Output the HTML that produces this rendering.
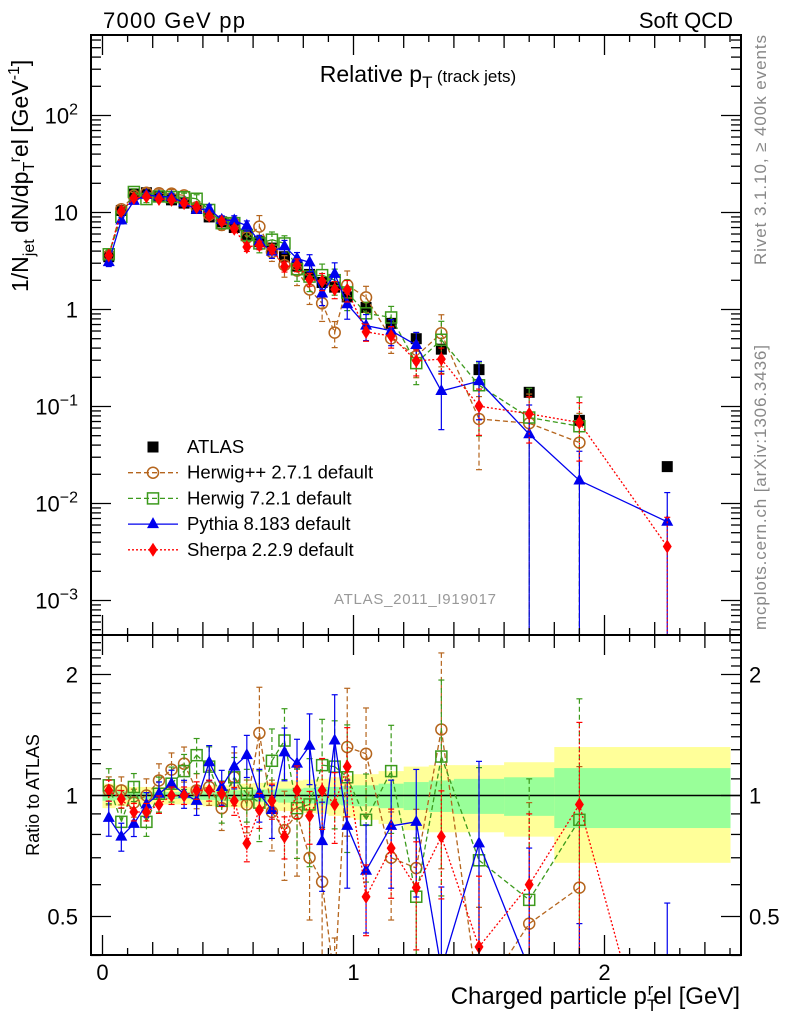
<!DOCTYPE html>
<html><head><meta charset="utf-8"><style>
html,body{margin:0;padding:0;background:#fff;width:786px;height:1024px;overflow:hidden}
svg{display:block;font-family:"Liberation Sans",Arial,sans-serif}
</style></head><body>
<svg id="chart" width="786" height="1024" viewBox="0 0 786 1024" xmlns="http://www.w3.org/2000/svg">
<defs>
<clipPath id="clipMain"><rect x="91" y="35" width="650" height="600"/></clipPath>
<clipPath id="clipRatio"><rect x="91" y="635" width="650" height="320"/></clipPath>
</defs>
<g id="bands" clip-path="url(#clipRatio)"></g>
<g id="ratioMarks" clip-path="url(#clipRatio)"></g>
<g id="mainMarks" clip-path="url(#clipMain)"></g>
<g id="axes"></g>
<text x="103" y="28" font-size="22" textLength="142">7000 GeV pp</text>
<text x="733" y="28" font-size="22" text-anchor="end">Soft QCD</text>
<text x="418" y="82" font-size="23" text-anchor="middle">Relative p<tspan font-size="17" dy="6">T</tspan><tspan font-size="17" dy="-6"> (track jets)</tspan></text>
<text x="415" y="604" font-size="15" fill="#999" text-anchor="middle" textLength="162">ATLAS_2011_I919017</text>
<text transform="translate(766,265) rotate(-90)" font-size="17" fill="#888" textLength="230">Rivet 3.1.10, ≥ 400k events</text>
<text transform="translate(766,630) rotate(-90)" font-size="17" fill="#888" textLength="285">mcplots.cern.ch [arXiv:1306.3436]</text>
<text transform="translate(28,292) rotate(-90)" font-size="23">1/N<tspan font-size="16" dy="6">jet</tspan><tspan dy="-6"> dN/dp</tspan><tspan font-size="16" dy="6">T</tspan><tspan font-size="16" dy="-14">r</tspan><tspan dy="8">el [GeV</tspan><tspan font-size="16" dy="-9">-1</tspan><tspan dy="9">]</tspan></text>
<text transform="translate(39,795) rotate(-90)" font-size="18" text-anchor="middle">Ratio to ATLAS</text>
<text x="740" y="1004" font-size="24" text-anchor="end">Charged particle p<tspan font-size="17" dy="7">T</tspan><tspan font-size="17" dy="-16" dx="-9">r</tspan><tspan dy="9">el [GeV]</tspan></text>
<g id="legend"></g>
</svg>
<script>
const xBins = [0.025,0.075,0.125,0.175,0.225,0.275,0.325,0.375,0.425,0.475,0.525,0.575,0.625,0.675,0.725,0.775,0.825,0.875,0.925,0.975,1.05,1.15,1.25,1.35,1.5,1.7,1.9,2.25];
const atlasValues = [3.5,10.5,15.5,16,14.5,13.5,12.5,11,9,8,7,5.8,5,4.3,3.5,2.8,2.3,1.9,1.7,1.35,1.05,0.72,0.5,0.39,0.24,0.14,0.072,0.024];
const bandEdges = [0,0.05,0.1,0.15,0.2,0.25,0.3,0.35,0.4,0.45,0.5,0.55,0.6,0.65,0.7,0.75,0.8,0.85,0.9,0.95,1.0,1.1,1.2,1.3,1.4,1.6,1.8,2.0,2.5];
const statErr = [0.03,0.025,0.02,0.02,0.02,0.02,0.02,0.025,0.025,0.03,0.03,0.03,0.035,0.035,0.04,0.04,0.045,0.05,0.05,0.055,0.06,0.07,0.08,0.09,0.1,0.11,0.17,0.17];
const totErr = [0.07,0.06,0.05,0.05,0.05,0.05,0.05,0.055,0.06,0.06,0.065,0.07,0.075,0.08,0.085,0.09,0.095,0.1,0.11,0.12,0.13,0.15,0.18,0.19,0.19,0.21,0.32,0.32];
const herwigppRatio = [1.03,1.03,0.96,1.0,1.09,1.16,1.2,1.03,1.05,0.93,1.11,0.95,1.43,0.91,0.82,0.9,0.70,0.61,0.34,1.32,1.27,0.70,0.66,1.46,0.31,0.48,0.59,null];
const herwigppErr = [0.08,0.08,0.08,0.1,0.1,0.1,0.1,0.1,0.1,0.12,0.15,0.15,0.3,0.2,0.25,0.3,0.3,0.35,0.3,0.4,0.3,0.3,0.4,0.55,0.7,1.0,1.0,0];
const herwig7Ratio = [1.06,0.86,1.05,0.86,1.01,1.07,1.15,1.26,1.18,0.97,1.11,1.01,0.96,1.22,1.37,0.93,0.95,1.19,1.18,1.11,0.87,1.15,0.56,1.25,0.69,0.55,0.87,null];
const herwig7Err = [0.1,0.08,0.08,0.08,0.1,0.1,0.1,0.1,0.12,0.12,0.12,0.15,0.2,0.2,0.2,0.25,0.3,0.3,0.3,0.35,0.3,0.3,0.4,0.55,0.7,1.0,1.0,0];
const pythiaRatio = [0.88,0.79,0.85,0.95,1.01,1.07,1.01,0.97,1.21,1.05,1.18,1.26,1.01,0.92,1.28,1.2,1.33,0.77,1.37,0.84,0.65,0.84,0.86,0.37,0.76,0.37,0.24,0.27];
const pythiaErr = [0.1,0.08,0.07,0.07,0.07,0.08,0.08,0.08,0.1,0.1,0.12,0.12,0.15,0.15,0.15,0.15,0.2,0.25,0.3,0.3,0.3,0.3,0.35,0.6,0.6,1.0,1.0,1.0];
const sherpaRatio = [1.03,0.98,0.91,0.91,0.95,1.0,1.0,1.03,1.03,1.01,0.97,0.76,0.92,0.97,0.79,1.03,0.89,1.03,0.95,1.18,0.56,0.74,0.59,0.79,0.42,0.6,0.95,0.15];
const sherpaErr = [0.06,0.05,0.05,0.05,0.05,0.05,0.05,0.05,0.06,0.07,0.08,0.1,0.1,0.1,0.12,0.15,0.15,0.2,0.2,0.25,0.2,0.25,0.3,0.3,0.5,0.5,0.6,1.0];
const mainTickLabels = ["10<sup>-3</sup>","10<sup>-2</sup>","10<sup>-1</sup>","1","10","10<sup>2</sup>"];
const xTickLabels = ["0","1","2"];
const ratioTickLabels = ["0.5","1","2"];

const NS="http://www.w3.org/2000/svg";
const X0=102.5, XS=251, L=91, R=741, MT=35, MB=635, RB=955;
function sx(v){return X0+XS*v;}
function sy(v){return 309.5-97*Math.log10(v);}
function sr(v){return 795.5-121*Math.log2(v);}
function clamp(v,a,b){return Math.max(a,Math.min(b,v));}
function mk(tag,attrs,parent){const e=document.createElementNS(NS,tag);for(const k in attrs)e.setAttribute(k,attrs[k]);parent.appendChild(e);return e;}
const axes=document.getElementById('axes');
const bands=document.getElementById('bands');
const rm=document.getElementById('ratioMarks');
const mm=document.getElementById('mainMarks');

for(let i=0;i<totErr.length;i++){
  const x1=sx(bandEdges[i]),x2=sx(bandEdges[i+1]);
  const y=mk('rect',{x:x1,y:sr(1+totErr[i]),width:x2-x1+0.5,height:sr(1-totErr[i])-sr(1+totErr[i]),fill:'#ffff99'},bands);
  
  
  const g=mk('rect',{x:x1,y:sr(1+statErr[i]),width:x2-x1+0.5,height:sr(1-statErr[i])-sr(1+statErr[i]),fill:'#99ff99'},bands);
  
  
}
mk('line',{x1:L,x2:R,y1:sr(1),y2:sr(1),stroke:'#000','stroke-width':1.5},bands);

function marker(type,x,y,color,parent){
  let e;
  if(type==='circle') e=mk('circle',{cx:x,cy:y,r:5.5,fill:'none',stroke:color,'stroke-width':1.5},parent);
  else if(type==='square') e=mk('rect',{x:x-5.5,y:y-5.5,width:11,height:11,fill:'none',stroke:color,'stroke-width':1.5},parent);
  else if(type==='tri') e=mk('polygon',{points:`${x},${y-7} ${x-6},${y+4} ${x+6},${y+4}`,fill:color},parent);
  else if(type==='diamond') e=mk('polygon',{points:`${x},${y-7} ${x-4.5},${y} ${x},${y+7} ${x+4.5},${y}`,fill:color},parent);
  else if(type==='fsquare') e=mk('rect',{x:x-5.5,y:y-5.5,width:11,height:11,fill:color},parent);
  return e;
}
// clip a segment to horizontal band [top,bot]; returns null if fully outside
function clipSeg(x1,y1,x2,y2,top,bot){
  function at(yy){return x1+(x2-x1)*(yy-y1)/(y2-y1);}
  if((y1<top&&y2<top)||(y1>bot&&y2>bot)) return null;
  if(y1>bot){x1=at(bot);y1=bot;} else if(y1<top){x1=at(top);y1=top;}
  if(y2>bot){x2=x1+(x2-x1)*(bot-y1)/(y2-y1);y2=bot;} else if(y2<top){x2=x1+(x2-x1)*(top-y1)/(y2-y1);y2=top;}
  return [x1,y1,x2,y2];
}
const series=[
 {name:'herwigpp',ratio:herwigppRatio,err:herwigppErr,color:'#b5651d',type:'circle',dash:'5,3',label:'Herwig++ 2.7.1 default'},
 {name:'herwig7',ratio:herwig7Ratio,err:herwig7Err,color:'#3c9a1c',type:'square',dash:'5,3',label:'Herwig 7.2.1 default'},
 {name:'pythia',ratio:pythiaRatio,err:pythiaErr,color:'#0000ee',type:'tri',dash:'',label:'Pythia 8.183 default'},
 {name:'sherpa',ratio:sherpaRatio,err:sherpaErr,color:'#ff0000',type:'diamond',dash:'2,2',label:'Sherpa 2.2.9 default'}
];
for(let i=0;i<xBins.length;i++){
  const e=marker('fsquare',sx(xBins[i]),sy(atlasValues[i]),'#000',mm);
  
  
}
series.forEach(s=>{
  ['main','ratio'].forEach(panel=>{
    const par=panel==='main'?mm:rm;
    const top=panel==='main'?MT:MB, bot=panel==='main'?MB:RB;
    const raw=panel==='main'?(i,r)=>sy(Math.max(1e-6,atlasValues[i]*r)):(i,r)=>sr(Math.max(1e-3,r));
    const f=(i,r)=>clamp(raw(i,r),top-10,bot+10);
    let prev=null;
    for(let i=0;i<xBins.length;i++){
      if(s.ratio[i]==null) continue;
      const cur=[sx(xBins[i]),raw(i,s.ratio[i])];
      if(prev){
        const c=clipSeg(prev[0],prev[1],cur[0],cur[1],top-2,bot+2);
        if(c){const ln=mk('line',{x1:c[0],y1:c[1],x2:c[2],y2:c[3],stroke:s.color,'stroke-width':1.3,'stroke-dasharray':s.dash},par);
          
          }
      }
      prev=cur;
    }
    for(let i=0;i<xBins.length;i++){
      const r=s.ratio[i]; if(r==null) continue;
      const x=sx(xBins[i]), y=raw(i,r);
      const lo=r*(1-Math.min(s.err[i],0.999)), hi=r*(1+s.err[i]);
      const y1=f(i,hi), y2=f(i,lo);
      mk('line',{x1:x,x2:x,y1:y1,y2:y2,stroke:s.color,'stroke-width':1.2,'stroke-dasharray':s.dash},par);
      mk('line',{x1:x-3,x2:x+3,y1:y1,y2:y1,stroke:s.color,'stroke-width':1.2},par);
      mk('line',{x1:x-3,x2:x+3,y1:y2,y2:y2,stroke:s.color,'stroke-width':1.2},par);
      if(y<top-10||y>bot+10) continue;
      const m=marker(s.type,x,y,s.color,par);
      
      
    }
  });
});
mk('rect',{x:L,y:MT,width:R-L,height:MB-MT,fill:'none',stroke:'#000','stroke-width':2},axes);
mk('rect',{x:L,y:MB,width:R-L,height:RB-MB,fill:'none',stroke:'#000','stroke-width':2},axes);
for(let k=0;k<=25;k++){
  const v=k/10, x=sx(v);
  const len = k%10===0?20:(k%2===0?13:7);
  [[MB,-1],[MT,1],[RB,-1],[MB,1]].forEach(([y0,d])=>{
    mk('line',{x1:x,x2:x,y1:y0,y2:y0+d*len,stroke:'#000','stroke-width':1.3},axes);
  });
}
xTickLabels.forEach((t,i)=>{const e=mk('text',{x:sx(i),y:980,'font-size':22,'text-anchor':'middle'},axes);e.textContent=t;
  
  });
for(let d=-4;d<=2;d++){
  for(let m=1;m<=9;m++){
    const v=m*Math.pow(10,d), y=sy(v); if(y<MT||y>MB) continue;
    const len=m===1?20:10;
    mk('line',{x1:L,x2:L+len,y1:y,y2:y,stroke:'#000','stroke-width':1.3},axes);
    mk('line',{x1:R,x2:R-len,y1:y,y2:y,stroke:'#000','stroke-width':1.3},axes);
  }
}
mainTickLabels.forEach((t,i)=>{
  const y=sy(Math.pow(10,i-3))+8;
  const e=mk('text',{x:78,y:y,'font-size':22,'text-anchor':'end'},axes);
  
  
  const p=t.split('<sup>');
  e.textContent=p[0];
  if(p[1]){const ts=mk('tspan',{'font-size':16,dy:-9},e);ts.textContent=p[1].replace('</sup>','').replace('-','−');}
});
const rt=[0.4,0.5,0.6,0.7,0.8,0.9,1,1.1,1.2,1.3,1.4,1.5,1.6,1.7,1.8,1.9,2,2.1,2.2,2.3,2.4];
rt.forEach(v=>{const y=sr(v); const len=(v===0.5||v===1||v===2)?20:10;
  mk('line',{x1:L,x2:L+len,y1:y,y2:y,stroke:'#000','stroke-width':1.3},axes);
  mk('line',{x1:R,x2:R-len,y1:y,y2:y,stroke:'#000','stroke-width':1.3},axes);});
ratioTickLabels.forEach(t=>{const y=sr(parseFloat(t))+8;
  const a=mk('text',{x:78,y:y,'font-size':22,'text-anchor':'end'},axes);a.textContent=t;
  
  
  const b=mk('text',{x:749,y:y,'font-size':22},axes);b.textContent=t;
  
  });
const lg=document.getElementById('legend');
const rows=[{label:'ATLAS',type:'fsquare',color:'#000',dash:null}].concat(series);
rows.forEach((s,i)=>{
  const y=447+i*25.7;
  const g=mk('g',{},lg);
  
  
  if(s.dash!==null) mk('line',{x1:128,x2:178,y1:y,y2:y,stroke:s.color,'stroke-width':1.3,'stroke-dasharray':s.dash},g);
  marker(s.type,153,y,s.color,g);
  const t=mk('text',{x:187,y:y+6,'font-size':18.5},g);t.textContent=s.label;
});
</script>
</body></html>
